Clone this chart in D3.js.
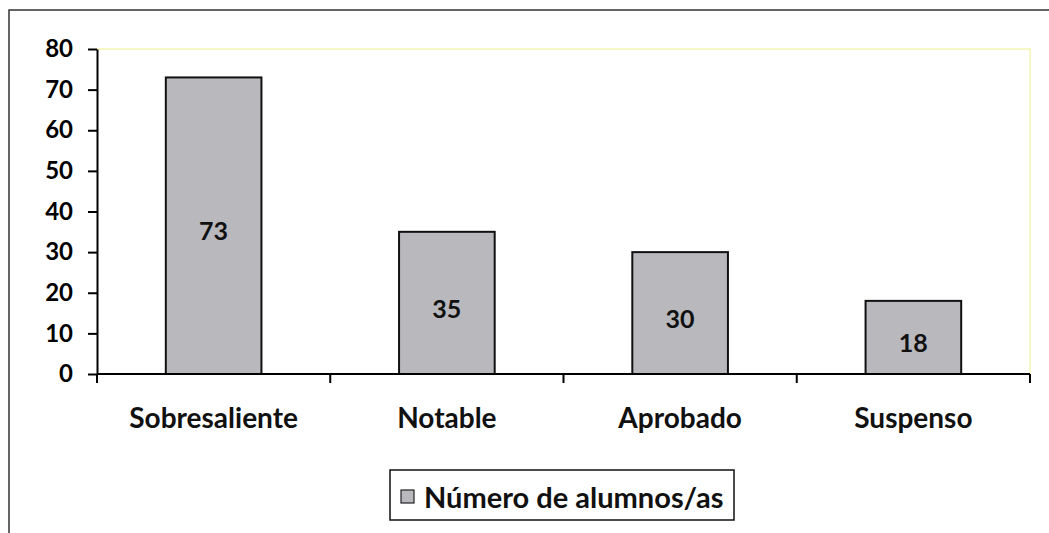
<!DOCTYPE html>
<html>
<head>
<meta charset="utf-8">
<script src="https://cdn.jsdelivr.net/npm/d3@7"></script>
<style>
  body { margin: 0; background: #fff; }
  svg { display: block; font-family: Lato, "Open Sans", sans-serif; font-weight: bold; }
</style>
</head>
<body>
<div id="chart"></div>
<script>
// data
var categories = ["Sobresaliente", "Notable", "Aprobado", "Suspenso"];
var values = [73, 35, 30, 18];
var yTicks = [0, 10, 20, 30, 40, 50, 60, 70, 80];
var seriesName = "Número de alumnos/as";

var W = 1049, H = 533;
var margin = {top: 49, right: 19, bottom: 159, left: 97},
  width = W - margin.left - margin.right,
  height = H - margin.top - margin.bottom;

var svg = d3.select("#chart")
  .append("svg")
  .attr("width", W)
  .attr("height", H);

// outer chart border (runs off the right and bottom)
svg.append("rect")
  .attr("x", 9).attr("y", 10)
  .attr("width", W + 20).attr("height", H + 20)
  .attr("fill", "#fff")
  .attr("stroke", "#333")
  .attr("stroke-width", 1.5);

var g = svg.append("g")
  .attr("transform", "translate(" + margin.left + "," + margin.top + ")");

var x = d3.scaleBand()
  .domain(categories)
  .range([0, width])
  .paddingInner(0.59)
  .paddingOuter(0.295);

var xb = d3.scaleBand().domain(categories).range([0, width]);

var y = d3.scaleLinear()
  .domain([0, 80])
  .range([height, 0]);

// plot area border (light yellow top & right)
g.append("path")
  .attr("d", "M0,0H" + width + "V" + height)
  .attr("fill", "none")
  .attr("stroke", "#f7f7c6")
  .attr("stroke-width", 2);

// bars
g.selectAll(".bar")
  .data(values)
  .enter()
  .append("rect")
    .attr("class", "bar")
    .attr("x", function(d, i) { return x(categories[i]) })
    .attr("y", function(d) { return y(d) })
    .attr("width", x.bandwidth())
    .attr("height", function(d) { return height - y(d) })
    .style("fill", "#b8b8bd")
    .style("stroke", "#111")
    .style("stroke-width", 2);

// value labels
g.selectAll(".val")
  .data(values)
  .enter()
  .append("text")
    .attr("x", function(d, i) { return x(categories[i]) + x.bandwidth() / 2 })
    .attr("y", function(d) { return y(d / 2) + 6 })
    .attr("dy", "0.35em")
    .attr("text-anchor", "middle")
    .style("font-size", "25px")
    .style("fill", "#111")
    .text(function(d) { return d });

// y axis
var yAxis = g.append("g")
  .call(d3.axisLeft(y).tickValues(yTicks).tickSize(9).tickSizeOuter(0).tickPadding(15));
yAxis.select(".domain").attr("stroke", "#000").attr("stroke-width", 2);
yAxis.selectAll(".tick line").attr("stroke", "#000").attr("stroke-width", 2);
yAxis.selectAll(".tick text")
  .style("font-size", "24px")
  .style("font-family", "Lato, sans-serif")
  .style("font-weight", "bold")
  .attr("fill", "#000");

// x axis: ticks at category boundaries
var xAxis = g.append("g")
  .attr("transform", "translate(0," + height + ")");
xAxis.append("line")
  .attr("x1", 0).attr("x2", width)
  .attr("stroke", "#000").attr("stroke-width", 2);
var bounds = categories.map(function(c) { return xb(c) }).concat([width]);
xAxis.selectAll(".xt")
  .data(bounds)
  .enter()
  .append("line")
    .attr("x1", function(d) { return d }).attr("x2", function(d) { return d })
    .attr("y1", 0).attr("y2", 9)
    .attr("stroke", "#000").attr("stroke-width", 2);
xAxis.selectAll(".xl")
  .data(categories)
  .enter()
  .append("text")
    .attr("x", function(d) { return xb(d) + xb.bandwidth() / 2 })
    .attr("y", 54)
    .attr("text-anchor", "middle")
    .style("font-size", "28px")
    .style("fill", "#111")
    .text(function(d) { return d });

// legend
var legend = svg.append("g").attr("transform", "translate(390,470)");
legend.append("rect")
  .attr("width", 344).attr("height", 50)
  .attr("fill", "#fff")
  .attr("stroke", "#111")
  .attr("stroke-width", 1.5);
legend.append("rect")
  .attr("x", 11).attr("y", 20)
  .attr("width", 13).attr("height", 13)
  .attr("fill", "#b8b8bd")
  .attr("stroke", "#222")
  .attr("stroke-width", 1.2);
legend.append("text")
  .attr("x", 34).attr("y", 38)
  .style("font-size", "29px")
  .style("fill", "#111")
  .text(seriesName);
</script>
</body>
</html>
